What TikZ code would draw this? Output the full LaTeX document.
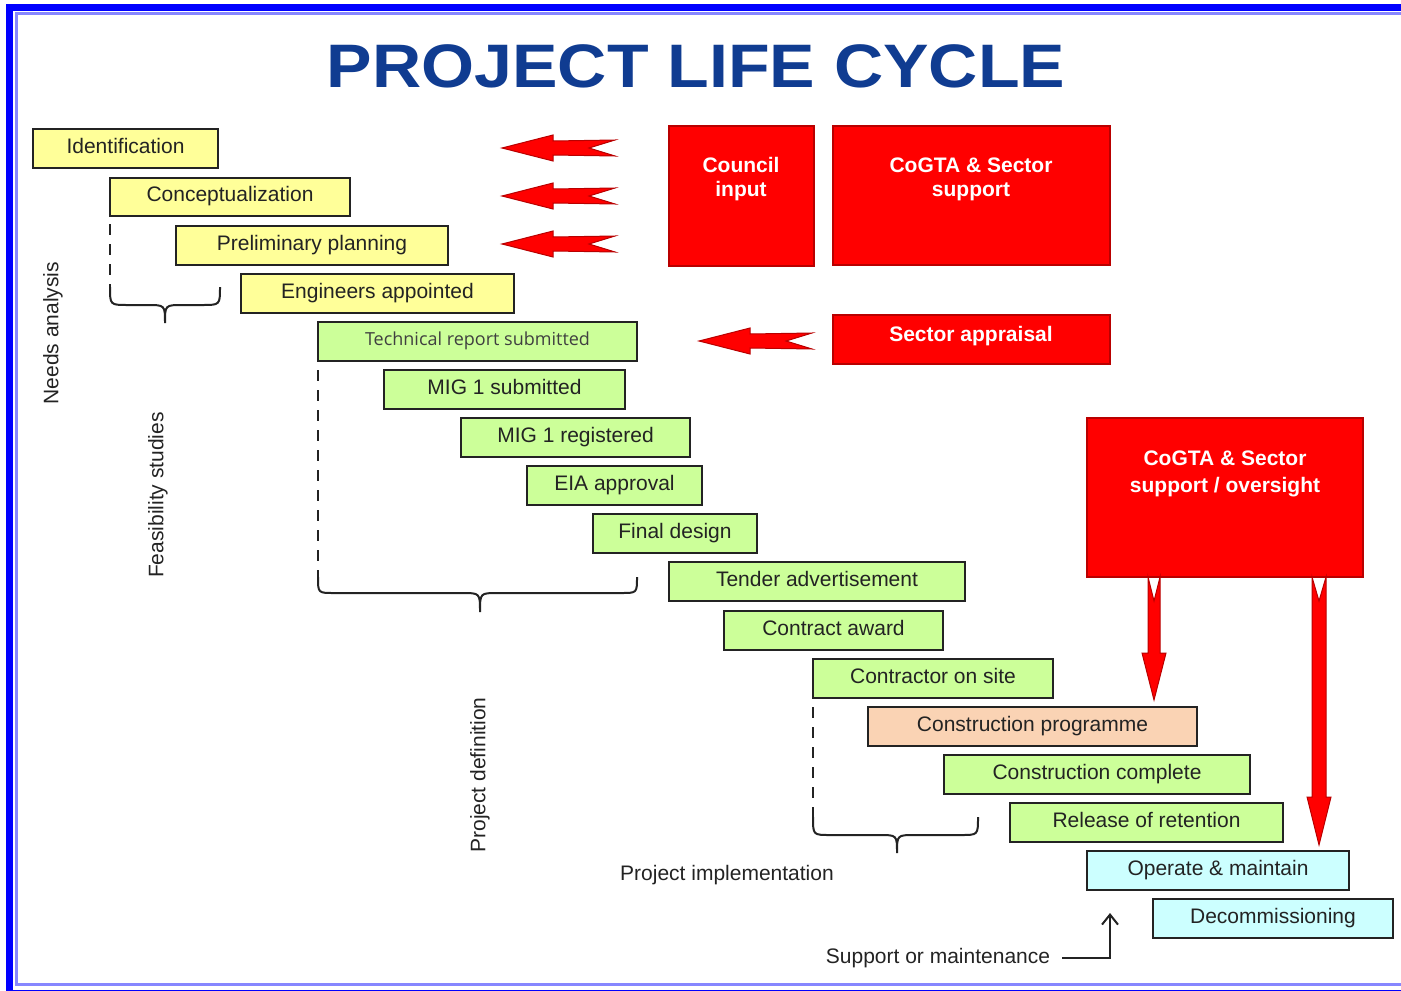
\documentclass[tikz,border=0pt]{standalone}
\usepackage{fontspec}
\setmainfont{Liberation Sans}
\newfontfamily\osans{Open Sans}
\usetikzlibrary{fit,arrows.meta}
\definecolor{ttl}{RGB}{16,60,145}
\definecolor{yel}{RGB}{255,255,153}
\definecolor{grn}{RGB}{204,255,153}
\definecolor{pch}{RGB}{250,211,180}
\definecolor{cyn}{RGB}{204,255,255}
\definecolor{frm}{RGB}{0,0,255}
\definecolor{frml}{RGB}{135,135,255}
\definecolor{dred}{RGB}{185,0,0}
\definecolor{ink}{RGB}{35,35,35}
\begin{document}
\begin{tikzpicture}[x=0.5pt,y=-0.5pt,
  stagebox/.style={draw=ink, line width=1pt, inner sep=0pt, minimum height=19.5pt,
    text height=7.5pt, text depth=3pt, font=\fontsize{10.5}{12}\selectfont, text=ink},
  redbox/.style={draw=dred, line width=0.6pt, fill=red, inner sep=0pt},
  redtxt/.style={text=white, font=\fontsize{10.5}{12}\bfseries\selectfont, align=center, inner sep=0pt},
  redtxtb/.style={text=white, font=\fontsize{10.5}{13.5}\bfseries\selectfont, align=center, inner sep=0pt},
  blockarrow/.style={fill=red, draw=dred, line width=0.5pt, line join=miter},
  bracepath/.style={draw=ink, line width=1pt},
  dashline/.style={draw=ink, line width=1pt, dash pattern=on 5.5pt off 4.5pt},
  sidelabel/.style={text=ink, font=\fontsize{10.5}{12}\selectfont, inner sep=1pt},
  leftarrow/.pic={\path[blockarrow] (0,0) -- (51,-13) -- (51,-7) -- (113,-8) -- (87,0) -- (113,8) -- (51,7) -- (51,13) -- cycle;}
]
\useasboundingbox (0,0) rectangle (1401,990);

% frame
\begin{scope}
\clip (0,0) rectangle (1401,990);
\draw[frm, line width=3.5pt] (9.5,7.5) rectangle (1460,993);
\draw[frml, line width=1.5pt] (16,14) rectangle (1450,984);
\end{scope}

% title
\node[text=ttl, font=\fontsize{30.7}{32}\bfseries\selectfont, xscale=1.11, inner sep=0pt] (title) at (696,66) {PROJECT LIFE CYCLE};

% stages
\node[stagebox, fill=yel, minimum width=92.5pt] (s1) at (125.5,148.5) {Identification};
\node[stagebox, fill=yel, minimum width=120pt, minimum height=19pt] (s2) at (230,197) {Conceptualization};
\node[stagebox, fill=yel, minimum width=136pt] (s3) at (312,245.5) {Preliminary planning};
\node[stagebox, fill=yel, minimum width=136.5pt] (s4) at (377.5,293.5) {Engineers appointed};
\node[stagebox, fill=grn, minimum width=159.5pt, font=\osans\fontsize{9}{11}\selectfont, text=black!75, text height=6.8pt, text depth=2.4pt] (s5) at (477.5,341.5) {Technical report submitted};
\node[stagebox, fill=grn, minimum width=120.5pt] (s6) at (504.5,389.5) {MIG 1 submitted};
\node[stagebox, fill=grn, minimum width=114.5pt] (s7) at (575.5,437.5) {MIG 1 registered};
\node[stagebox, fill=grn, minimum width=87.5pt] (s8) at (614.5,485.5) {EIA approval};
\node[stagebox, fill=grn, minimum width=82pt] (s9) at (675,533.5) {Final design};
\node[stagebox, fill=grn, minimum width=148pt] (s10) at (817,581.5) {Tender advertisement};
\node[stagebox, fill=grn, minimum width=109.5pt] (s11) at (833.5,630.5) {Contract award};
\node[stagebox, fill=grn, minimum width=120pt] (s12) at (933,678.5) {Contractor on site};
\node[stagebox, fill=pch, minimum width=164.5pt] (s13) at (1032.5,726.5) {Construction programme};
\node[stagebox, fill=grn, minimum width=153pt] (s14) at (1097,774.5) {Construction complete};
\node[stagebox, fill=grn, minimum width=136.5pt] (s15) at (1146.5,822.5) {Release of retention};
\node[stagebox, fill=cyn, minimum width=131pt] (s16) at (1218,870.5) {Operate \& maintain};
\node[stagebox, fill=cyn, minimum width=120pt] (s17) at (1273,918.5) {Decommissioning};

% red boxes
\node[redbox, fit={(669,126)(814,266)}] (council) {};
\node[redtxt] (counciltxt) at (741,179) {Council\\input};
\node[redbox, fit={(833,126)(1110,265)}] (cogta) {};
\node[redtxt] (cogtatxt) at (971,179) {CoGTA \& Sector\\support};
\node[redbox, fit={(833,315)(1110,364)}] (appraisal) {};
\node[redtxt, text height=7.5pt, text depth=0pt] (appraisaltxt) at (971,334) {Sector appraisal};
\node[redbox, fit={(1087,418)(1363,577)}] (oversight) {};
\node[redtxtb] (oversighttxt) at (1225,474) {CoGTA \& Sector\\support / oversight};

% left block arrows
\pic at (502,148) {leftarrow};
\pic at (502,196) {leftarrow};
\pic at (502,244) {leftarrow};
\pic at (699,341) {leftarrow};

% down block arrows
\path[blockarrow] (1148,577) -- (1154,601) -- (1160,577) -- (1160,653) -- (1166,653) -- (1154,700) -- (1142,653) -- (1148,653) -- cycle;
\path[blockarrow] (1312,577) -- (1319,601) -- (1326,577) -- (1326,797) -- (1331,797) -- (1319,845) -- (1307,797) -- (1312,797) -- cycle;

% braces
\path[dashline] (110,224) -- (110,287);
\path[bracepath] (110,287) .. controls (110,305) .. (128,305) -- (147,305) .. controls (165,305) .. (165,323)
   .. controls (165,305) .. (183,305) -- (202,305) .. controls (220,305) .. (220,287);
\path[dashline] (318,370) -- (318,577);
\path[bracepath] (318,577) .. controls (318,593) .. (334,593) -- (462,593) .. controls (480,593) .. (480,612)
   .. controls (480,593) .. (498,593) -- (621,593) .. controls (637,593) .. (637,577);
\path[dashline] (813,707) -- (813,817);
\path[bracepath] (813,817) .. controls (813,835) .. (830,835) -- (879,835) .. controls (897,835) .. (897,853)
   .. controls (897,835) .. (915,835) -- (961,835) .. controls (978,835) .. (978,817);

% side labels
\node[sidelabel, rotate=90] (needs) at (53,333) {Needs analysis};
\node[sidelabel, rotate=90] (feas) at (158,495) {Feasibility studies};
\node[sidelabel, rotate=90] (pdef) at (480,775) {Project definition};
\node[sidelabel] (pimpl) at (727,875) {Project implementation};
\node[sidelabel, inner sep=6pt] (supp) at (938,958) {Support or maintenance};
\coordinate (supptip) at (1110,913);
\draw[draw=ink, line width=1pt, -{Straight Barb[length=5pt,width=8pt,line width=1pt]}] (supp.east) -| (supptip);
\end{tikzpicture}
\end{document}
